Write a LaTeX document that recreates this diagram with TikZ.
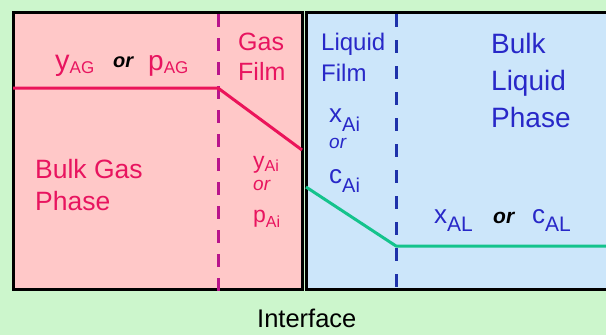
\documentclass[tikz,border=0pt]{standalone}
\usepackage{fontspec}
\setmainfont{Liberation Sans}
\definecolor{bggreen}{RGB}{204,246,204}
\definecolor{pinkfill}{RGB}{255,200,200}
\definecolor{bluefill}{RGB}{204,230,250}
\definecolor{pinktext}{RGB}{232,20,95}
\definecolor{redline}{RGB}{235,20,90}
\definecolor{purpdash}{RGB}{185,20,140}
\definecolor{bluetext}{RGB}{40,40,200}
\definecolor{bluedash}{RGB}{30,50,170}
\definecolor{greenline}{RGB}{20,195,140}
\newcommand{\fs}[1]{\fontsize{#1}{#1}\selectfont}
\newcommand{\gsb}[1]{\raisebox{-3pt}{\fs{17}#1}}
\newcommand{\lsb}[1]{\raisebox{-9pt}{\fs{20}#1}}
\tikzset{
  lbl/.style={inner sep=0pt, anchor=base west},
  gastxt/.style={lbl, text=pinktext},
  liqtxt/.style={lbl, text=bluetext},
  boxline/.style={line width=3pt, draw=black},
  pdash/.style={draw=purpdash, line width=3pt, dash pattern=on 13pt off 11pt},
  bdash/.style={draw=bluedash, line width=3pt, dash pattern=on 13pt off 13pt},
}
\begin{document}
\begin{tikzpicture}[x=1pt,y=-1pt]
\fill[bggreen] (0,0) rectangle (606,335);
\useasboundingbox (0,0) rectangle (606,335);
% boxes
\path[boxline, fill=pinkfill] (13,12) rectangle (302,289);
\path[boxline, fill=bluefill] (306,12) rectangle (615,289);
% film boundaries
\draw[pdash] (218,14) -- (218,300);
\draw[bdash] (396,14) -- (396,294);
% profiles
\coordinate (g0) at (13,88);
\coordinate (g1) at (218,88);
\coordinate (g2) at (302,150);
\draw[redline, line width=3pt, line join=round] (g0) -- (g1) -- (g2);
\coordinate (l0) at (306,187);
\coordinate (l1) at (396,246);
\coordinate (l2) at (606,246);
\draw[greenline, line width=3pt, line join=round] (l0) -- (l1) -- (l2);
% gas side labels
\node[gastxt] (yag) at (55,70) {\fs{29}y\gsb{AG}};
\node[lbl] (or1) at (113,67) {\fs{20}\bfseries\itshape or};
\node[gastxt] (pag) at (148,70) {\fs{28}p\gsb{AG}};
\node[gastxt] (gasfilm) at (238,50) {\fs{25}Gas};
\node[gastxt] (gasfilm2) at (238,80) {\fs{25}Film};
\node[gastxt] (bg1) at (35,178) {\fs{26.5}Bulk Gas};
\node[gastxt] (bg2) at (35,210) {\fs{26.5}Phase};
\node[gastxt] (yai) at (253,168) {\fs{23}y\raisebox{-3pt}{\fs{16}Ai}};
\node[gastxt] (or2) at (253,190) {\fs{19}\itshape or};
\node[gastxt] (pai) at (253,222) {\fs{23}p\raisebox{-5pt}{\fs{16}Ai}};
% liquid side labels
\node[liqtxt] (lf1) at (321,50) {\fs{24}Liquid};
\node[liqtxt] (lf2) at (321,81) {\fs{24}Film};
\node[liqtxt] (bl1) at (491,53) {\fs{28}Bulk};
\node[liqtxt] (bl2) at (491,90) {\fs{28}Liquid};
\node[liqtxt] (bl3) at (491,127) {\fs{28}Phase};
\node[liqtxt] (xai) at (329,122) {\fs{26}x\lsb{Ai}};
\node[liqtxt] (or3) at (329,148) {\fs{19}\itshape or};
\node[liqtxt] (cai) at (329,183) {\fs{26}c\lsb{Ai}};
\node[liqtxt] (xal) at (434,223) {\fs{26}x\raisebox{-8pt}{\fs{21}AL}};
\node[lbl] (or4) at (493,223) {\fs{21}\bfseries\itshape or};
\node[liqtxt] (cal) at (532,223) {\fs{26}c\raisebox{-8pt}{\fs{21}AL}};
% interface
\node[lbl] (iface) at (257,327) {\fs{25.5}Interface};
\end{tikzpicture}
\end{document}
